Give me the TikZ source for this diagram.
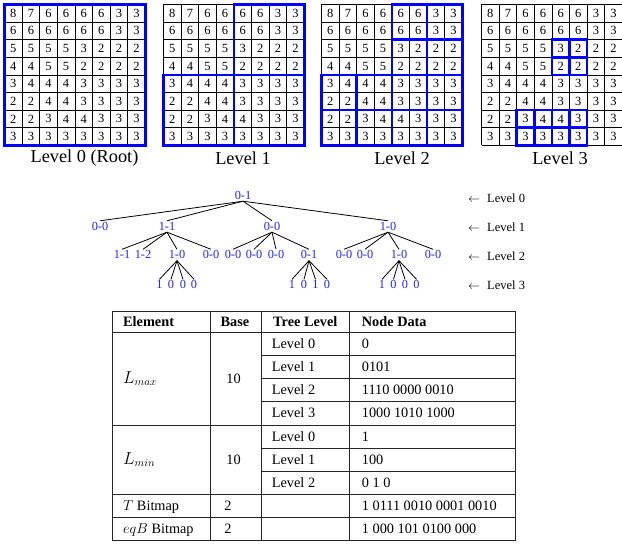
\documentclass[tikz,border=0pt]{standalone}
\usepackage{fontspec}
\setmainfont{Liberation Serif}
\definecolor{treeblue}{RGB}{35,35,255}
\definecolor{boxblue}{RGB}{0,0,255}
\newcommand\cellsz{17.6}
\newcommand\bluecell[5]{\draw[bbox] ({#1+(#2)*\cellsz},{4.5+(#3)*\cellsz}) rectangle ({#1+(#4)*\cellsz},{4.5+(#5)*\cellsz});}
\begin{document}
\begin{tikzpicture}[x=1pt,y=-1pt,
  cellnum/.style={font=\fontsize{12.5}{14}\selectfont, inner sep=0pt},
  gridline/.style={line width=0.7pt, black},
  bbox/.style={draw=boxblue, line width=2.6pt},
  gridlabel/.style={font=\fontsize{18.3}{20}\selectfont, inner sep=0pt},
  tnode/.style={text=treeblue, font=\fontsize{12.3}{14}\selectfont, inner sep=1.5pt, text height=8pt, text depth=0pt},
  tedge/.style={line width=0.8pt, black},
  levellab/.style={font=\fontsize{12.5}{14}\selectfont, anchor=west, inner sep=0pt},
  tab/.style={font=\fontsize{14.3}{16}\selectfont, inner sep=0pt, text height=9.4pt, text depth=0pt},
  tabl/.style={tab, anchor=west},
  tabm/.style={tabl, font=\fontsize{16}{18}\selectfont},
  tabline/.style={line width=0.8pt, black!85}]
\useasboundingbox (0,0) rectangle (622,545);

% ---------- grids ----------
\foreach \gx/\gi in {4.5/0, 163.5/1, 321.5/2, 481.5/3} {
  \foreach \k in {0,...,8} {
    \draw[gridline] ({\gx+\k*\cellsz},4.5) -- ({\gx+\k*\cellsz},{4.5+8*\cellsz});
    \draw[gridline] (\gx,{4.5+\k*\cellsz}) -- ({\gx+8*\cellsz},{4.5+\k*\cellsz});
  }
  \foreach \row [count=\r from 0] in {{8,7,6,6,6,6,3,3},{6,6,6,6,6,6,3,3},{5,5,5,5,3,2,2,2},{4,4,5,5,2,2,2,2},{3,4,4,4,3,3,3,3},{2,2,4,4,3,3,3,3},{2,2,3,4,4,3,3,3},{3,3,3,3,3,3,3,3}} {
    \foreach \v [count=\c from 0] in \row {
      \node[cellnum] (g\gi-\r-\c) at ({\gx+(\c+0.5)*\cellsz},{4.5+(\r+0.5)*\cellsz}) {\v};
    }
  }
}
% level 0
\bluecell{4.5}{0}{0}{8}{8}
% level 1
\bluecell{163.5}{4}{0}{8}{4}
\bluecell{163.5}{0}{4}{4}{8}
\bluecell{163.5}{4}{4}{8}{8}
% level 2
\foreach \a/\b in {4/0,6/0,4/2,6/2,0/4,2/4,0/6,2/6,4/4,6/4,4/6,6/6} {
  \bluecell{321.5}{\a}{\b}{\a+2}{\b+2}
}
% level 3
\foreach \a/\b in {4/2,5/2,4/3,5/3,2/6,3/6,4/6,5/6,2/7,3/7,4/7,5/7} {
  \bluecell{481.5}{\a}{\b}{\a+1}{\b+1}
}
\node[gridlabel] (lab0) at (84.5,158) {Level 0 (Root)};
\node[gridlabel] (lab1) at (243,158) {Level 1};
\node[gridlabel] (lab2) at (402,158) {Level 2};
\node[gridlabel] (lab3) at (560,158) {Level 3};

% ---------- tree ----------
\node[tnode] (r) at (243,195.5) {0-1};
\node[tnode] (a1) at (100,226.5) {0-0};
\node[tnode] (a2) at (167,226.5) {1-1};
\node[tnode] (a3) at (272,226.5) {0-0};
\node[tnode] (a4) at (388,226.5) {1-0};
\foreach \n/\x/\t in {b1/122/1-1, b2/143/1-2, b3/177/1-0, b4/211/0-0, b5/233/0-0, b6/254/0-0, b7/276/0-0, b8/309/0-1, b9/344/0-0, b10/365/0-0, b11/399/1-0, b12/433/0-0} {
  \node[tnode] (\n) at (\x,255) {\t};
}
\foreach \n/\x/\t in {c1/159.5/1, c2/171/0, c3/183/0, c4/194/0, c5/292/1, c6/304/0, c7/315.5/1, c8/327/0, c9/382/1, c10/393.5/0, c11/405/0, c12/416.5/0} {
  \node[tnode] (\n) at (\x,285) {\t};
}
\foreach \ch in {a1,a2,a3,a4} { \draw[tedge] (r.south) -- (\ch.north); }
\foreach \ch in {b1,b2,b3,b4} { \draw[tedge] (a2.south) -- (\ch.north); }
\foreach \ch in {b5,b6,b7,b8} { \draw[tedge] (a3.south) -- (\ch.north); }
\foreach \ch in {b9,b10,b11,b12} { \draw[tedge] (a4.south) -- (\ch.north); }
\foreach \ch in {c1,c2,c3,c4} { \draw[tedge] (b3.south) -- (\ch.north); }
\foreach \ch in {c5,c6,c7,c8} { \draw[tedge] (b8.south) -- (\ch.north); }
\foreach \ch in {c9,c10,c11,c12} { \draw[tedge] (b11.south) -- (\ch.north); }

\node[levellab] (lv0) at (468,198) {$\leftarrow$\hspace{7pt}Level 0};
\node[levellab] (lv1) at (468,227.7) {$\leftarrow$\hspace{7pt}Level 1};
\node[levellab] (lv2) at (468,256) {$\leftarrow$\hspace{7pt}Level 2};
\node[levellab] (lv3) at (468,285) {$\leftarrow$\hspace{7pt}Level 3};

% ---------- table ----------
\draw[tabline] (112,311.7) rectangle (515,540);
\foreach \x in {210,261.5,349} { \draw[tabline] (\x,311.7) -- (\x,540); }
\foreach \y in {332.3,425,494,517.3} { \draw[tabline] (112,\y) -- (515,\y); }
\foreach \y in {355,378,401.7,448,471.7} { \draw[tabline] (261.5,\y) -- (515,\y); }

\node[tabl] (h1) at (123,322) {\textbf{Element}};
\node[tab] (h2) at (235,322) {\textbf{Base}};
\node[tabl] (h3) at (273,322) {\textbf{Tree Level}};
\node[tabl] (h4) at (361.7,322) {\textbf{Node Data}};

\node[tabm] (e1) at (123,378.7) {$L_{max}$};
\node[tab] (s1) at (233.5,378.7) {10};
\node[tabm] (e2) at (123,459.5) {$L_{min}$};
\node[tab] (s2) at (233.5,459.5) {10};
\node[tabl] (e3) at (123,505.7) {$T$ Bitmap};
\node[tab] (s3) at (228,505.7) {2};
\node[tabl] (e4) at (123,528.7) {$eqB$ Bitmap};
\node[tab] (s4) at (228,528.7) {2};

\foreach \n/\y/\t in {t1/343.7/Level 0, t2/366.5/Level 1, t3/389.8/Level 2, t4/413.3/Level 3, t5/436.5/Level 0, t6/459.8/Level 1, t7/482.8/Level 2} {
  \node[tabl] (\n) at (271.7,\y) {\t};
}
\foreach \n/\y/\t in {d1/343.7/0, d2/366.5/0101, d3/389.8/1110 0000 0010, d4/413.3/1000 1010 1000, d5/436.5/1, d6/459.8/100, d7/482.8/0 1 0, d8/505.7/1 0111 0010 0001 0010, d9/528.7/1 000 101 0100 000} {
  \node[tabl] (\n) at (361.7,\y) {\t};
}
\end{tikzpicture}
\end{document}
